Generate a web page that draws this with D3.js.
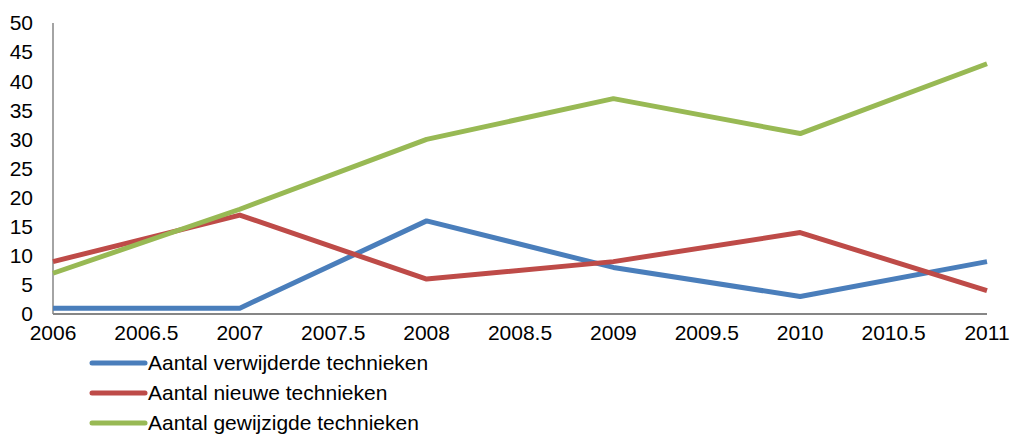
<!DOCTYPE html>
<html>
<head>
<meta charset="utf-8">
<script src="https://cdn.jsdelivr.net/npm/d3@7"></script>
<style>
  body { margin: 0; background: #fff; }
  text { font-family: "Liberation Sans", Arial, sans-serif; fill: #000; }
</style>
</head>
<body>
<svg id="chart"></svg>
<script>
const years = [2006, 2007, 2008, 2009, 2010, 2011];
const verwijderd = [1, 1, 16, 8, 3, 9];
const nieuw = [9, 17, 6, 9, 14, 4];
const gewijzigd = [7, 18, 30, 37, 31, 43];
const seriesNames = ["Aantal verwijderde technieken", "Aantal nieuwe technieken", "Aantal gewijzigde technieken"];
const seriesColors = ["#4a7ebb", "#be4b48", "#98b954"];
const xTicks = [2006, 2006.5, 2007, 2007.5, 2008, 2008.5, 2009, 2009.5, 2010, 2010.5, 2011];
const yTicks = [0, 5, 10, 15, 20, 25, 30, 35, 40, 45, 50];

const W = 1011, H = 436;
const svg = d3.select('#chart').attr('width', W).attr('height', H);

const x = d3.scaleLinear().domain([2006, 2011]).range([53, 987]);
const y = d3.scaleLinear().domain([0, 50]).range([314, 23]);

// axes
svg.append('line').attr('x1', x(2006)).attr('x2', x(2011))
  .attr('y1', y(0)).attr('y2', y(0)).attr('stroke', '#868686').attr('stroke-width', 2);
svg.append('line').attr('x1', x(2006)).attr('x2', x(2006))
  .attr('y1', y(0)).attr('y2', y(50)).attr('stroke', '#868686').attr('stroke-width', 1.5);

svg.selectAll('.ylab').data(yTicks).enter().append('text')
  .attr('x', 33).attr('y', d => y(d)).attr('dy', '0.35em')
  .attr('text-anchor', 'end').style('font-size', '21px').text(d => d);

svg.selectAll('.xlab').data(xTicks).enter().append('text')
  .attr('x', d => x(d)).attr('y', 333).attr('dy', '0.35em')
  .attr('text-anchor', 'middle').style('font-size', '21px').text(d => d);

// lines
const data = [verwijderd, nieuw, gewijzigd];
const line = d3.line().x((d, i) => x(years[i])).y(d => y(d));
svg.selectAll('.series').data(data).enter().append('path')
  .attr('d', d => line(d)).attr('fill', 'none')
  .attr('stroke', (d, i) => seriesColors[i]).attr('stroke-width', 5)
  .attr('stroke-linejoin', 'round');

// legend
const legY = [363, 393, 423];
const leg = svg.selectAll('.leg').data(seriesNames).enter().append('g')
  .attr('transform', (d, i) => `translate(0, ${legY[i]})`);
leg.append('line').attr('x1', 92).attr('x2', 145).attr('y1', 0).attr('y2', 0)
  .attr('stroke', (d, i) => seriesColors[i]).attr('stroke-width', 5).attr('stroke-linecap', 'round');
leg.append('text').attr('x', 148).attr('y', 0).attr('dy', '0.35em')
  .style('font-size', '21px').text(d => d);
</script>
</body>
</html>
